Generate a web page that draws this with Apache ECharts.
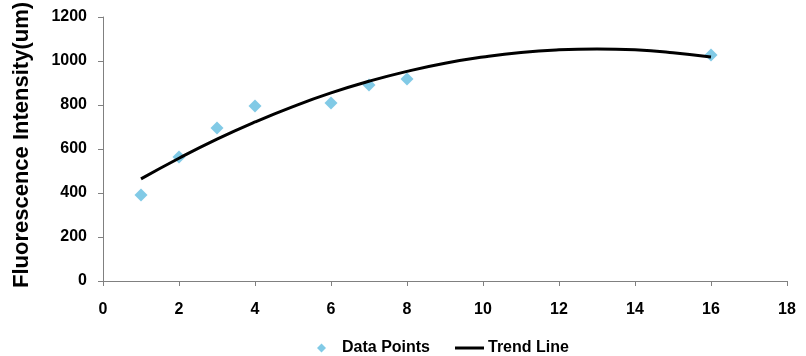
<!DOCTYPE html>
<html><head><meta charset="utf-8">
<script src="https://cdn.jsdelivr.net/npm/echarts@6/dist/echarts.min.js"></script>
<style>html,body{margin:0;padding:0;background:#fff}#c{width:806px;height:356px}</style>
</head><body><div id="c"></div>
<script>
var pointX = [1, 2, 3, 4, 6, 7, 8, 16];
var pointY = [391, 564, 695, 795, 809, 891, 918, 1027];
var trendX = [1, 2, 3, 4, 5, 6, 7, 8, 9, 10, 11, 12, 13, 14, 15, 16];
var trendY = [464, 558, 645, 723, 793, 855, 908, 953, 990, 1018, 1039, 1051, 1055, 1051, 1038, 1018];
var yTitle = 'Fluorescence Intensity(um)';
var seriesNames = ['Data Points', 'Trend Line'];

var font = 'Liberation Sans, Arial, sans-serif';
var chart = echarts.init(document.getElementById('c'));
chart.setOption({
  animation: false,
  grid: {left: 103, right: 19, top: 17, bottom: 75, outerBoundsMode: 'none', containLabel: false},
  xAxis: {
    type: 'value', min: 0, max: 18, interval: 2,
    axisLine: {lineStyle: {color: '#808080', width: 1}},
    axisTick: {length: 5, lineStyle: {color: '#808080'}},
    splitLine: {show: false},
    axisLabel: {color: '#000', fontFamily: font, fontWeight: 'bold', fontSize: 16, margin: 21,
                formatter: function (v) { return String(v); }}
  },
  yAxis: {
    type: 'value', min: 0, max: 1200, interval: 200,
    name: yTitle, nameLocation: 'middle', nameGap: 70,
    nameTextStyle: {color: '#000', fontFamily: font, fontWeight: 'bold', fontSize: 22, padding: [0, 0, 0, 8]},
    axisLine: {show: true, lineStyle: {color: '#808080', width: 1}},
    axisTick: {show: true, length: 5, lineStyle: {color: '#808080'}},
    splitLine: {show: false},
    axisLabel: {color: '#000', fontFamily: font, fontWeight: 'bold', fontSize: 16, margin: 16,
                formatter: function (v) { return String(v); }}
  },
  legend: [
    {left: 312, top: 335, itemWidth: 9, itemHeight: 9, data: [{name: seriesNames[0], icon: 'diamond'}],
     textStyle: {color: '#000', fontFamily: font, fontWeight: 'bold', fontSize: 16, padding: [0, 0, 0, 11]}},
    {left: 450, top: 335, itemWidth: 29, itemHeight: 3, data: [{name: seriesNames[1], icon: 'rect'}],
     textStyle: {color: '#000', fontFamily: font, fontWeight: 'bold', fontSize: 16, padding: [0, 0, 0, -1]}}
  ],
  series: [
    {name: seriesNames[0], type: 'scatter', symbol: 'diamond', symbolSize: 13, z: 3,
     itemStyle: {color: '#62bde0'},
     data: pointX.map(function (x, i) { return [x, pointY[i]]; })},
    {name: seriesNames[1], type: 'line', showSymbol: false, symbol: 'none', smooth: true, z: 4,
     itemStyle: {color: '#000'}, lineStyle: {color: '#000', width: 3},
     data: trendX.map(function (x, i) { return [x, trendY[i]]; })}
  ]
});
</script></body></html>
